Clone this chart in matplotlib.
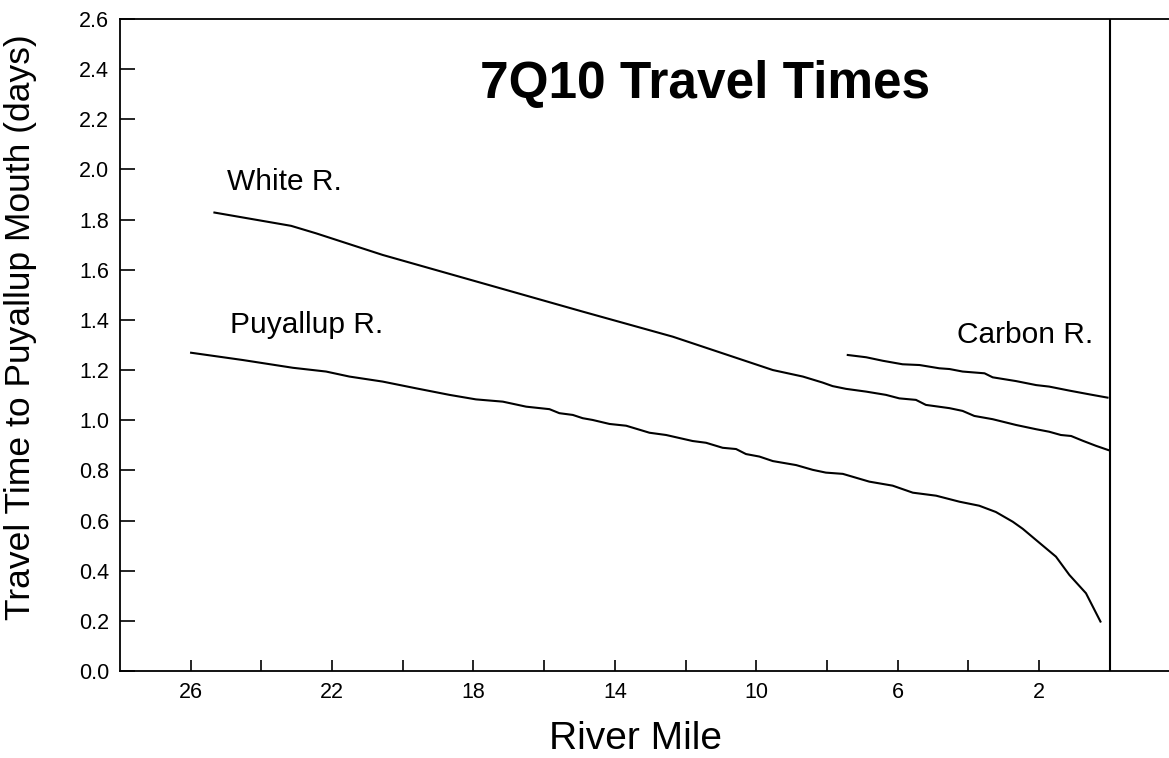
import matplotlib
matplotlib.use("Agg")
import matplotlib.pyplot as plt

plt.rcParams['font.family'] = ['Liberation Sans', 'DejaVu Sans']

# river mile / travel time (days)
white_mile = [25.33, 23.16, 22.45, 20.57, 17.74, 14.91, 12.36, 9.53, 8.68, 8.12, 7.84,
              7.46, 6.89, 6.33, 5.95, 5.48, 5.20, 4.53, 4.16, 3.83, 3.31, 2.65, 2.08,
              1.71, 1.38, 1.09, 0.76, 0.39, 0.04]
white_days = [1.828, 1.775, 1.745, 1.659, 1.546, 1.433, 1.333, 1.200, 1.174, 1.150, 1.136,
              1.125, 1.114, 1.101, 1.087, 1.081, 1.061, 1.048, 1.037, 1.017, 1.004, 0.981,
              0.964, 0.954, 0.941, 0.937, 0.918, 0.898, 0.881]

carbon_mile = [7.41, 6.89, 6.42, 5.86, 5.38, 4.82, 4.53, 4.16, 3.54, 3.31, 2.65, 2.08,
               1.71, 1.14, 0.57, 0.06]
carbon_days = [1.260, 1.251, 1.237, 1.223, 1.220, 1.207, 1.204, 1.194, 1.187, 1.171,
               1.156, 1.140, 1.134, 1.118, 1.103, 1.090]

puyallup_mile = [25.99, 24.53, 23.11, 22.17, 21.51, 20.57, 19.62, 18.68, 17.93, 17.17,
                 16.51, 15.85, 15.57, 15.19, 14.91, 14.63, 14.15, 13.68, 13.02, 12.55,
                 11.80, 11.42, 10.95, 10.57, 10.29, 9.91, 9.53, 8.87, 8.40, 8.03, 7.55,
                 6.80, 6.14, 5.57, 4.91, 4.25, 3.69, 3.22, 2.74, 2.46, 2.08, 1.52, 1.14,
                 0.67, 0.26]
puyallup_days = [1.269, 1.240, 1.209, 1.194, 1.174, 1.154, 1.127, 1.101, 1.083, 1.074,
                 1.054, 1.044, 1.028, 1.021, 1.008, 1.001, 0.985, 0.978, 0.950, 0.941,
                 0.917, 0.910, 0.890, 0.885, 0.865, 0.855, 0.837, 0.821, 0.802, 0.791,
                 0.786, 0.755, 0.739, 0.711, 0.699, 0.675, 0.659, 0.634, 0.595, 0.567,
                 0.522, 0.456, 0.383, 0.310, 0.197]

x_ticks = list(range(26, -1, -2))
x_labels = [str(t) if t % 4 == 2 else '' for t in x_ticks]
y_ticks = [i / 5 for i in range(14)]

fig = plt.figure(figsize=(11.69, 7.58), dpi=100)
ax = fig.add_axes([0.1027, 0.1148, 0.907, 0.8602])

ax.plot(white_mile, white_days, color='black', lw=1.5)
ax.plot(carbon_mile, carbon_days, color='black', lw=1.5)
ax.plot(puyallup_mile, puyallup_days, color='black', lw=1.5)
ax.axvline(0, color='black', lw=1.5)

ax.set_xlim(28, -2)
ax.set_ylim(0, 2.6)
ax.set_xticks(x_ticks)
ax.set_xticklabels(x_labels)
ax.set_yticks(y_ticks)
ax.set_yticklabels([f'{t:.1f}' for t in y_ticks])
ax.tick_params(axis='x', direction='in', length=8, width=1.2, labelsize=15.5, pad=8)
ax.tick_params(axis='y', direction='in', length=11, width=1.2, labelsize=15.5, pad=8)
for s in ax.spines.values():
    s.set_linewidth(1.3)

ax.set_xlabel('River Mile', fontsize=28)
ax.xaxis.set_label_coords(0.486, -0.076)
ax.set_ylabel('Travel Time to Puyallup Mouth (days)', fontsize=25.5)
ax.yaxis.set_label_coords(-0.078, 0.527)

ax.text(11.46, 2.34, '7Q10 Travel Times', fontsize=37, fontweight='bold',
        ha='center', va='center')
ax.text(24.98, 1.918, 'White R.', fontsize=21.5, va='baseline')
ax.text(24.9, 1.349, 'Puyallup R.', fontsize=21.5, va='baseline')
ax.text(4.33, 1.307, 'Carbon R.', fontsize=21.5, va='baseline')

fig.savefig('out.png', dpi=100)
